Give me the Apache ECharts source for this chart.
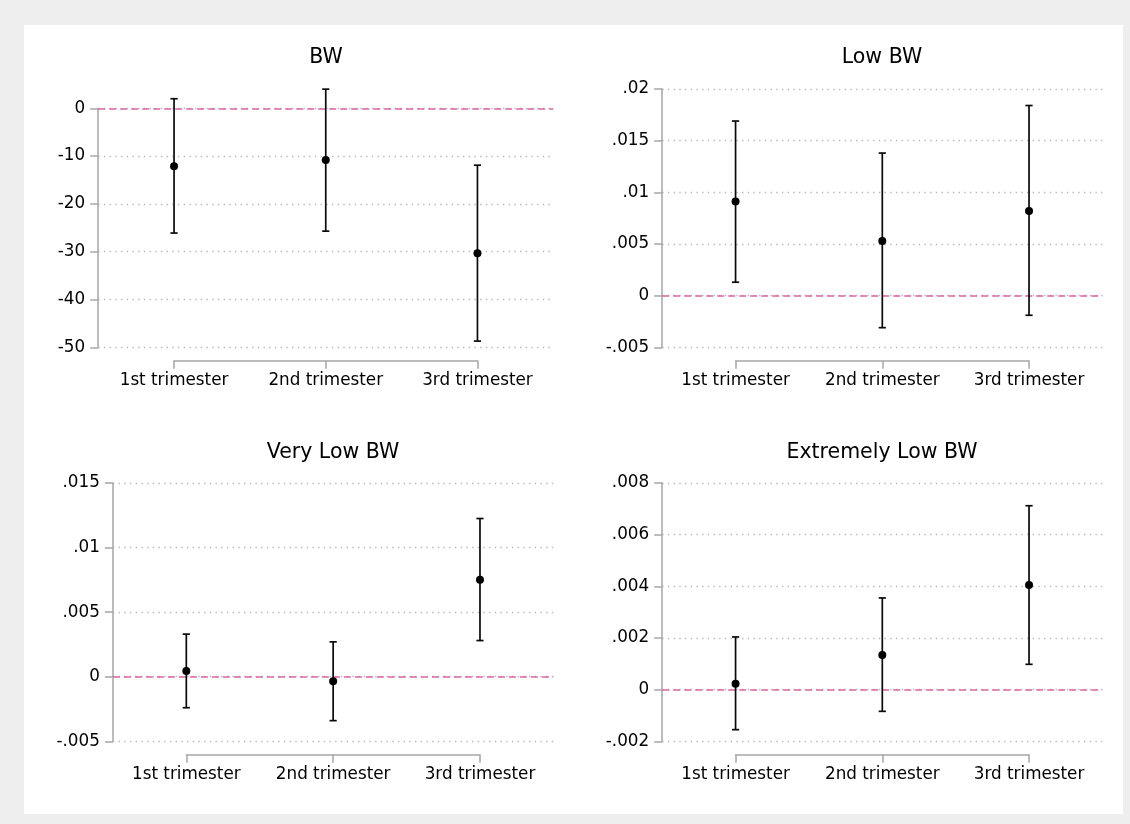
<!DOCTYPE html>
<html>
<head>
<meta charset="utf-8">
<title>Birth weight effects by trimester</title>
<script src="https://cdn.jsdelivr.net/npm/echarts@6/dist/echarts.min.js"></script>
<style>
  html, body { margin: 0; padding: 0; background: #eeeeee; }
  #chart { width: 1130px; height: 824px; }
</style>
</head>
<body>
<div id="chart"></div>
<script>
// ---- data ----
const trimesters = ['1st trimester', '2nd trimester', '3rd trimester'];

const bwEst = [-12.1, -10.8, -30.3];
const bwLo  = [-26.1, -25.7, -48.7];
const bwHi  = [2.0, 4.0, -11.9];
const bwTicks = [-50, -40, -30, -20, -10, 0];
const bwTickLabels = ['-50', '-40', '-30', '-20', '-10', '0'];

const lowEst = [0.0091, 0.0053, 0.0082];
const lowLo  = [0.0013, -0.0031, -0.0019];
const lowHi  = [0.0169, 0.0138, 0.0184];
const lowTicks = [-0.005, 0, 0.005, 0.01, 0.015, 0.02];
const lowTickLabels = ['-.005', '0', '.005', '.01', '.015', '.02'];

const vlowEst = [0.00044, -0.00036, 0.0075];
const vlowLo  = [-0.0024, -0.0034, 0.0028];
const vlowHi  = [0.0033, 0.0027, 0.01225];
const vlowTicks = [-0.005, 0, 0.005, 0.01, 0.015];
const vlowTickLabels = ['-.005', '0', '.005', '.01', '.015'];

const elowEst = [0.00023, 0.00134, 0.00405];
const elowLo  = [-0.00155, -0.00084, 0.00098];
const elowHi  = [0.00204, 0.00355, 0.00712];
const elowTicks = [-0.002, 0, 0.002, 0.004, 0.006, 0.008];
const elowTickLabels = ['-.002', '0', '.002', '.004', '.006', '.008'];

// ---- layout (pixel boxes of each plot region) ----
const FONT = 'DejaVu Sans';
const panels = [
  { title: 'BW', est: bwEst, lo: bwLo, hi: bwHi, ticks: bwTicks, labels: bwTickLabels,
    box: { left: 98.2, top: 108.3, width: 455.1, height: 239 }, axisY: 360.7, titleX: 326, titleY: 57.5 },
  { title: 'Low BW', est: lowEst, lo: lowLo, hi: lowHi, ticks: lowTicks, labels: lowTickLabels,
    box: { left: 662.2, top: 89, width: 440.2, height: 258.3 }, axisY: 360.7, titleX: 882, titleY: 57.5 },
  { title: 'Very Low BW', est: vlowEst, lo: vlowLo, hi: vlowHi, ticks: vlowTicks, labels: vlowTickLabels,
    box: { left: 112.9, top: 483, width: 440.5, height: 258.3 }, axisY: 754.7, titleX: 333, titleY: 453 },
  { title: 'Extremely Low BW', est: elowEst, lo: elowLo, hi: elowHi, ticks: elowTicks, labels: elowTickLabels,
    box: { left: 662.2, top: 483, width: 440.2, height: 258.3 }, axisY: 754.7, titleX: 882, titleY: 453 }
];

const grids = [], xAxes = [], yAxes = [], series = [];
const graphics = [{
  type: 'rect', left: 24, top: 25, z: -10, silent: true,
  shape: { width: 1099, height: 789 }, style: { fill: '#ffffff' }
}];

panels.forEach((p) => {
  const step = p.box.width / 3;
  const tickMin = p.ticks[0], tickMax = p.ticks[p.ticks.length - 1];
  const interval = p.ticks[1] - p.ticks[0];

  // plot region
  grids.push({ left: p.box.left, top: p.box.top, width: p.box.width, height: p.box.height, containLabel: false });
  const gMain = grids.length - 1;
  xAxes.push({ gridIndex: gMain, type: 'value', min: 0.5, max: 3.5, show: false });
  const xi = xAxes.length - 1;
  yAxes.push({
    gridIndex: gMain, type: 'value', min: tickMin, max: tickMax, interval: interval,
    axisLine: { show: true, lineStyle: { color: '#a6a6a6', width: 1.5 } },
    axisTick: { show: true, length: 8, lineStyle: { color: '#a6a6a6', width: 1.5 } },
    axisLabel: {
      margin: 13, fontFamily: FONT, fontSize: 16.8, color: '#000',
      formatter: v => {
        const k = p.ticks.findIndex(t => Math.abs(t - v) < interval * 1e-6);
        return k >= 0 ? p.labels[k] : '';
      }
    },
    splitLine: { show: true, lineStyle: { color: '#b9b9b9', width: 1.3, type: [1.4, 4.3] } }
  });
  const yi = yAxes.length - 1;

  // category axis drawn only between the first and last category
  grids.push({ left: p.box.left + step / 2, top: p.axisY, width: step * 2, height: 1, containLabel: false });
  const gCat = grids.length - 1;
  xAxes.push({
    gridIndex: gCat, type: 'value', min: 1, max: 3, interval: 1, position: 'top',
    axisLine: { show: true, onZero: false, lineStyle: { color: '#a6a6a6', width: 1.5 } },
    axisTick: { show: true, inside: true, length: 8, lineStyle: { color: '#a6a6a6', width: 1.5 } },
    axisLabel: { show: false },
    splitLine: { show: false }
  });
  xAxes.push({
    gridIndex: gCat, type: 'value', min: 1, max: 3, interval: 1, position: 'bottom',
    axisLine: { show: false, onZero: false }, axisTick: { show: false }, splitLine: { show: false },
    axisLabel: { margin: 10, fontFamily: FONT, fontSize: 16.8, color: '#000',
      formatter: v => trimesters[Math.round(v) - 1] || '' }
  });
  yAxes.push({ gridIndex: gCat, type: 'value', min: 0, max: 1, show: false });

  // confidence intervals
  series.push({
    type: 'custom', xAxisIndex: xi, yAxisIndex: yi, clip: false, silent: true, z: 3,
    data: trimesters.map((t, j) => [j + 1, p.lo[j], p.hi[j]]),
    renderItem: (params, api) => {
      const x = api.value(0);
      const a = api.coord([x, api.value(2)]);
      const b = api.coord([x, api.value(1)]);
      const c = 3.6;
      const st = { stroke: '#0a0a0a', lineWidth: 1.7 };
      return { type: 'group', children: [
        { type: 'line', shape: { x1: a[0], y1: a[1], x2: b[0], y2: b[1] }, style: st },
        { type: 'line', shape: { x1: a[0] - c, y1: a[1], x2: a[0] + c, y2: a[1] }, style: st },
        { type: 'line', shape: { x1: b[0] - c, y1: b[1], x2: b[0] + c, y2: b[1] }, style: st }
      ] };
    }
  });

  // point estimates + zero reference line
  series.push({
    type: 'scatter', xAxisIndex: xi, yAxisIndex: yi, clip: false, silent: true, z: 4,
    symbol: 'circle', symbolSize: 8, itemStyle: { color: '#000', opacity: 1 },
    data: trimesters.map((t, j) => [j + 1, p.est[j]]),
    markLine: {
      silent: true, symbol: 'none', animation: false, z: 2,
      label: { show: false },
      lineStyle: { color: '#d966a3', width: 1.6, type: [7, 4] },
      data: [{ yAxis: 0 }]
    }
  });

  graphics.push({
    type: 'text', x: p.titleX, y: p.titleY, silent: true,
    style: { text: p.title, font: '20.5px "DejaVu Sans"', fill: '#000', textAlign: 'center', textVerticalAlign: 'middle' }
  });
});

const chart = echarts.init(document.getElementById('chart'), null, { renderer: 'canvas' });
chart.setOption({
  animation: false,
  backgroundColor: '#eeeeee',
  textStyle: { fontFamily: FONT },
  grid: grids,
  xAxis: xAxes,
  yAxis: yAxes,
  series: series,
  graphic: graphics
});
</script>
</body>
</html>
